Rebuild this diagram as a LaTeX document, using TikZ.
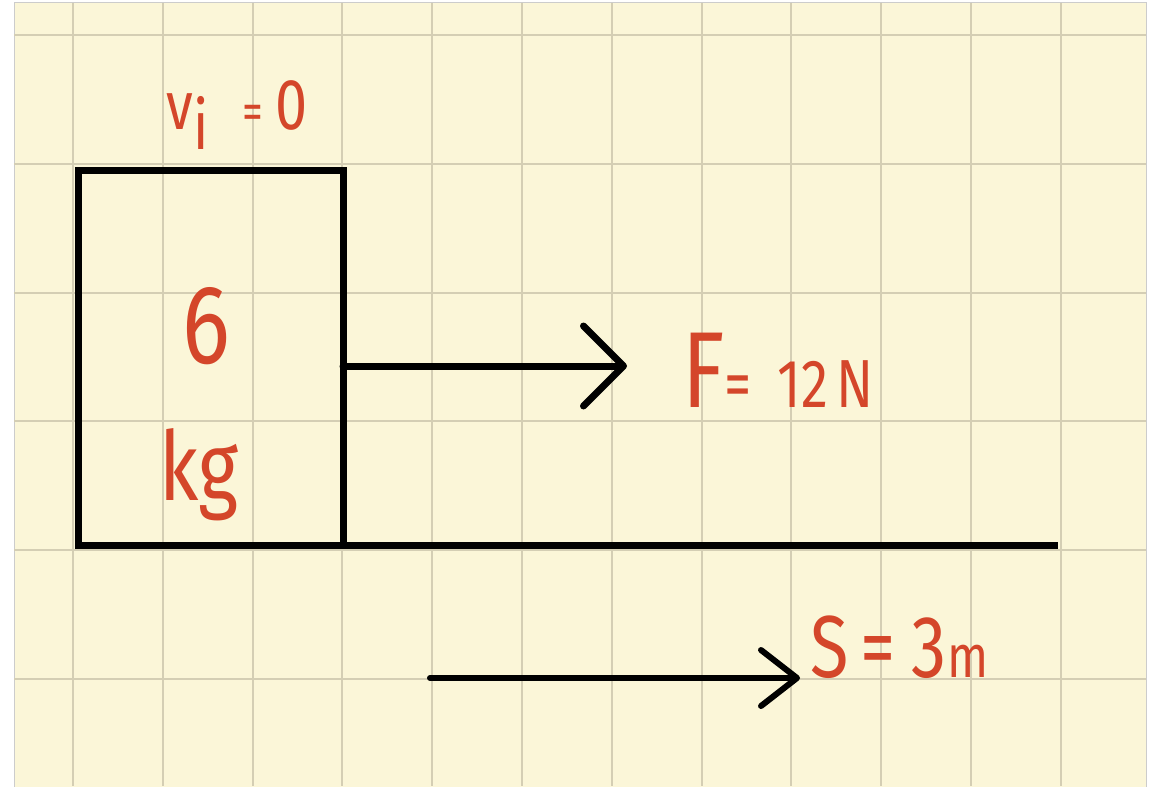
\documentclass[tikz,border=0pt]{standalone}
\usepackage{fontspec}
\setmainfont{Fira Sans}[FakeStretch=0.8]
\definecolor{paper}{RGB}{251,246,216}
\definecolor{gridline}{RGB}{212,206,180}
\definecolor{ink}{RGB}{212,70,42}
\usetikzlibrary{arrows.meta, positioning}

\begin{document}
\begin{tikzpicture}[
  x=0.5pt, y=-0.5pt,
  lbl/.style={text=ink, inner sep=0pt},
  arr/.style={-{Straight Barb[length=20pt, width=40pt, round]}, line width=3.5pt, line cap=round},
  smallarr/.style={-{Straight Barb[length=18pt, width=28pt, round]}, line width=3pt, line cap=round},
  edge/.style={line width=3.5pt},
]
  \useasboundingbox (0,0) rectangle (1154,786);
  \fill[white] (0,0) rectangle (1154,786);
  \filldraw[fill=paper, draw=gray!40, line width=0.5pt] (14,3) rectangle (1146,790);

  % grid paper
  \foreach \gx in {0,...,11} \draw[gridline, line width=1pt] (73+89.8*\gx,3) -- (73+89.8*\gx,786);
  \foreach \gy in {0,...,5} \draw[gridline, line width=1pt] (14,35+128.8*\gy) -- (1146,35+128.8*\gy);

  \node[draw, line width=3.5pt, outer sep=0pt, minimum width=132.5pt, minimum height=187pt, inner sep=0pt] (block) at (210.5,358) {};
  \coordinate (groundend) at (1058,545);
  \draw[edge] (block.south) -- (groundend);

  \node[lbl, anchor=base west] (vinit) at (166,130) {\fontsize{34}{34}\selectfont v\raisebox{-10pt}{i}\hspace{17pt}{\fontsize{26}{26}\selectfont =}\hspace{6pt}{\fontsize{36}{36}\selectfont 0}};
  \node[lbl, anchor=base] (mass) at (206,363) {\fontsize{56}{56}\selectfont 6};
  \node[lbl, anchor=base] (unit) at (199,500) {\fontsize{48}{48}\selectfont kg};

  % applied force
  \coordinate (ftip) at (627,366);
  \draw[arr] (block.east |- ftip) -- (ftip);
  \node[lbl, anchor=base west] (force) at (682,407) {\fontsize{54}{54}\selectfont F{\fontsize{34}{34}\selectfont =\hspace{13pt}12\hspace{4pt}N}};

  % displacement
  \coordinate (sstart) at (430,678);
  \coordinate (stip) at (800,678);
  \draw[smallarr] (sstart) -- (stip);
  \node[lbl, anchor=base west] (dist) at (810,677) {\fontsize{44}{44}\selectfont S\hspace{6pt}=\hspace{8pt}3{\fontsize{30}{30}\selectfont m}};
\end{tikzpicture}
\end{document}
